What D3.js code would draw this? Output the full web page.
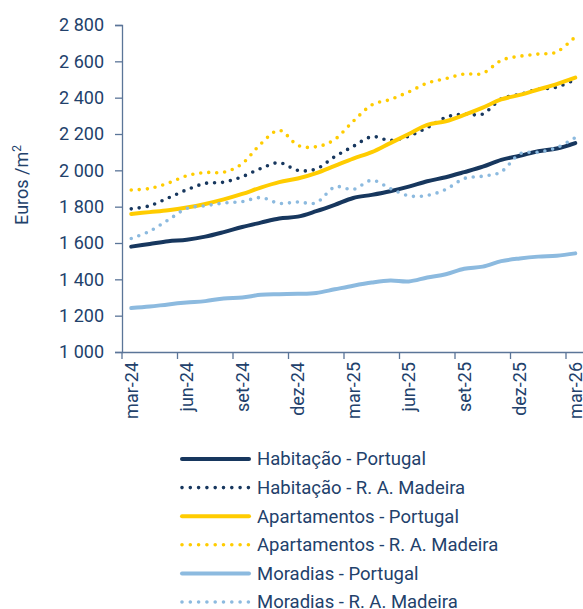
<!DOCTYPE html>
<html lang="pt">
<head>
<meta charset="utf-8">
<script src="https://d3js.org/d3.v7.min.js"></script>
<style>
  body { margin: 0; background: #fff; }
  svg text { font-family: Roboto, "Noto Sans", sans-serif; fill: #22416b; }
</style>
</head>
<body>
<svg id="chart" width="583" height="609"></svg>
<script>
// months mar-24 .. mar-26
var months = ["mar-24","abr-24","mai-24","jun-24","jul-24","ago-24","set-24","out-24","nov-24","dez-24",
  "jan-25","fev-25","mar-25","abr-25","mai-25","jun-25","jul-25","ago-25","set-25","out-25","nov-25","dez-25",
  "jan-26","fev-26","mar-26"];
var yTicks = [1000,1200,1400,1600,1800,2000,2200,2400,2600,2800];

var habPT  = [1580,1595,1610,1618,1635,1660,1688,1712,1735,1745,1775,1810,1848,1865,1885,1910,1940,1962,1990,2020,2058,2080,2105,2120,2150];
var habMad = [1788,1805,1848,1893,1928,1935,1965,2010,2042,2000,2008,2075,2132,2185,2165,2188,2235,2292,2310,2310,2393,2418,2446,2458,2500];
var aptPT  = [1760,1770,1780,1795,1815,1840,1870,1905,1935,1955,1985,2025,2065,2100,2150,2200,2250,2270,2305,2345,2390,2415,2445,2475,2510];
var aptMad = [1892,1900,1930,1970,1988,1990,2037,2145,2220,2138,2130,2170,2270,2360,2390,2432,2480,2505,2530,2534,2605,2628,2640,2652,2735];
var morPT  = [1242,1250,1262,1272,1280,1295,1300,1315,1318,1320,1325,1345,1365,1382,1393,1388,1410,1428,1458,1470,1500,1515,1525,1530,1543];
var morMad = [1625,1665,1727,1790,1805,1820,1828,1850,1818,1826,1822,1908,1895,1945,1900,1860,1862,1895,1955,1968,1992,2090,2100,2125,2180];

var seriesNames = ["Habitação - Portugal","Habitação - R. A. Madeira","Apartamentos - Portugal",
  "Apartamentos - R. A. Madeira","Moradias - Portugal","Moradias - R. A. Madeira"];
var seriesData = [habPT, habMad, aptPT, aptMad, morPT, morMad];
var seriesColors = ["#17375e","#17375e","#ffcc00","#ffcc00","#8cbadf","#8cbadf"];
var seriesDotted = [false,true,false,true,false,true];

var svg = d3.select("#chart");
var plotLeft = 122, plotTop = 25, plotBottom = 352;

var x = d3.scaleBand().domain(months).range([plotLeft, plotLeft + 25 * 18.5]).padding(0);
var y = d3.scaleLinear().domain([1000, 2800]).range([plotBottom, plotTop]);

var loc = d3.formatLocale({decimal: ",", thousands: " ", grouping: [3], currency: ["", ""]});
var fmt = loc.format(",");

// y axis
var yAxis = svg.append("g").attr("transform", "translate(" + plotLeft + ",0)")
  .call(d3.axisLeft(y).tickValues(yTicks).tickSize(7).tickPadding(11).tickFormat(fmt));
yAxis.selectAll("text").style("font-size", "18px");
yAxis.selectAll("line, path").attr("stroke", "#5b7598").attr("stroke-width", 1.3);

// x axis: labels centred on every 3rd month, ticks at band edges
var labelMonths = months.filter(function(d, i) { return i % 3 === 0; });
var xAxis = svg.append("g").attr("transform", "translate(0," + plotBottom + ")")
  .call(d3.axisBottom(x).tickValues(labelMonths).tickSize(0).tickPadding(0));
xAxis.select("path").attr("stroke", "#5b7598").attr("stroke-width", 1.3);
xAxis.selectAll("text")
  .style("font-size", "18px")
  .attr("text-anchor", "end")
  .attr("transform", "translate(0,10) rotate(-90)")
  .attr("x", 0).attr("y", 0).attr("dy", "0.35em");
xAxis.selectAll(".xtick").data(labelMonths).enter().append("line")
  .attr("class", "xtick")
  .attr("x1", function(d) { return x(d); }).attr("x2", function(d) { return x(d); })
  .attr("y1", 0).attr("y2", 7)
  .attr("stroke", "#5b7598").attr("stroke-width", 1.3);

// y title
svg.append("text")
  .attr("transform", "translate(28,185) rotate(-90)")
  .attr("text-anchor", "middle")
  .style("font-size", "18px")
  .text("Euros /m")
  .append("tspan").attr("dy", "-7").style("font-size", "12px").text("2");

// lines
var line = d3.line()
  .x(function(d, i) { return x(months[i]) + x.bandwidth() / 2; })
  .y(function(d) { return y(d); })
  .curve(d3.curveCatmullRom.alpha(0));

seriesData.forEach(function(data, k) {
  var p = svg.append("path").datum(data)
    .attr("d", line)
    .attr("fill", "none")
    .attr("stroke", seriesColors[k])
    .attr("stroke-linecap", "round")
    .attr("stroke-linejoin", "round");
  if (seriesDotted[k]) p.attr("stroke-width", 3.6).attr("stroke-dasharray", "0,8");
  else p.attr("stroke-width", 4);
});

// legend
var legend = svg.append("g");
seriesNames.forEach(function(name, k) {
  var ly = 459 + k * 28.6;
  var l = legend.append("line")
    .attr("x1", 182).attr("x2", 249).attr("y1", ly).attr("y2", ly)
    .attr("stroke", seriesColors[k]).attr("stroke-linecap", "round");
  if (seriesDotted[k]) l.attr("stroke-width", 3.6).attr("stroke-dasharray", "0,8.3");
  else l.attr("stroke-width", 4);
  legend.append("text").attr("x", 257).attr("y", ly).attr("dy", "0.35em")
    .style("font-size", "18.5px").text(name);
});
</script>
</body>
</html>
